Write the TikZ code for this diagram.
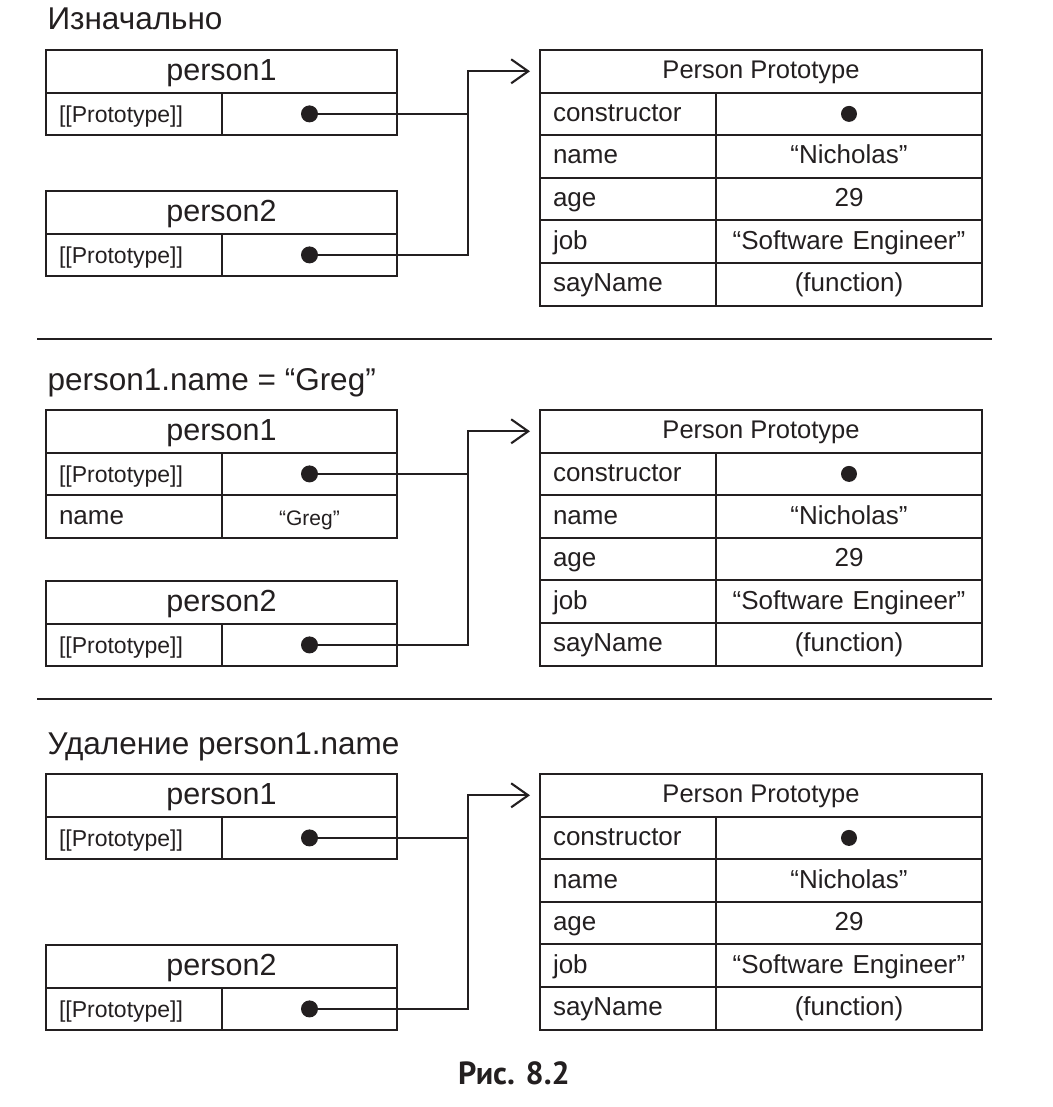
\documentclass[tikz,border=0pt]{standalone}
\usepackage{fontspec}
\setmainfont{Liberation Sans}
\newfontfamily\figcapfont{PT Sans}
\usetikzlibrary{
    positioning,
    arrows.meta
}
\definecolor{ink}{RGB}{35,31,32}
\newcommand{\ttlsize}{\fontsize{31.5}{36}\selectfont}
\newcommand{\hdsize}{\fontsize{30.5}{36}\selectfont}
\newcommand{\rowsize}{\fontsize{26}{31}\selectfont}
\newcommand{\ppsize}{\fontsize{25.5}{30}\selectfont}
\newcommand{\keysize}{\fontsize{23}{28}\selectfont}
\newcommand{\gregsize}{\fontsize{21}{25}\selectfont}
\tikzset{
    > = {Straight Barb[length=17pt, width=24pt]},
    cell/.style = {draw, line width=2pt, inner ysep=0pt, outer sep=0pt,
                   anchor=north west, minimum height=42.6pt,
                   text height=19pt, text depth=4pt},
    keycell/.style = {cell, inner xsep=13pt, text width=#1, align=left},
    valcell/.style = {cell, inner xsep=0pt, text width=#1, align=center},
    protokey/.style = {keycell=150pt, font=\keysize, text height=17.6pt, text depth=0pt},
    headcell/.style = {cell, minimum width=351pt, font=\hdsize, text height=22pt},
    dot/.style = {circle, fill, inner sep=0pt, minimum size=17pt},
    link/.style = {line width=2.1pt},
    sepline/.style = {line width=2.8pt},
}

\begin{document}
\begin{tikzpicture}[x=1pt, y=-1pt, color=ink]
\useasboundingbox (0,0) rectangle (1052,1107);

% prototype tables
\foreach \s/\t in {a/50, b/410, c/774}{
    \node[cell, minimum width=442pt, font=\ppsize, text height=18pt] (\s PP) at (540,\t) {Person Prototype};
    \foreach \k/\v [count=\i] in {constructor/{}, name/{“Nicholas”}, age/29, job/{“Software Engineer”}, sayName/(function)}{
        \node[keycell=150pt, font=\rowsize] (\s K\i) at (540,\t+\i*42.6) {\k};
        \node[valcell=266pt, font=\rowsize] (\s V\i) at (716,\t+\i*42.6) {\v};
    }
    \node[dot, minimum size=16pt] (\s CD) at (\s V1.center) {};
    \coordinate (\s J) at (468,\t+21.3);
    \coordinate (\s T) at (530,\t+21.3);
}

% first
\node[anchor=base west, font=\ttlsize] (aTitle) at (44,30) {Изначально};
\node[headcell] (aP1) at (46,50) {person1};
\node[protokey] (aP1k) at (46,92.6) {[[Prototype]]};
\node[valcell=175pt] (aP1v) at (222,92.6) {};
\node[dot] (aP1d) at (aP1v.center) {};

\node[headcell] (aP2) at (46,191) {person2};
\node[protokey] (aP2k) at (46,233.6) {[[Prototype]]};
\node[valcell=175pt] (aP2v) at (222,233.6) {};
\node[dot] (aP2d) at (aP2v.center) {};

\draw[link] (aP1d) -- (aP1d -| aJ);
\draw[link, ->] (aP2d) -| (aJ) -- (aT);

\draw[sepline] (37,339) -- (992,339);

% second
\node[anchor=base west, font=\ttlsize] (bTitle) at (44,390) {person1.name = “Greg”};
\node[headcell] (bP1) at (46,410) {person1};
\node[protokey] (bP1k) at (46,452.6) {[[Prototype]]};
\node[valcell=175pt] (bP1v) at (222,452.6) {};
\node[dot] (bP1d) at (bP1v.center) {};
\node[keycell=150pt, font=\rowsize] (bN1k) at (46,495.2) {name};
\node[valcell=175pt, font=\gregsize, text height=17pt, text depth=0pt] (bN1v) at (222,495.2) {“Greg”};

\node[headcell] (bP2) at (46,581) {person2};
\node[protokey] (bP2k) at (46,623.6) {[[Prototype]]};
\node[valcell=175pt] (bP2v) at (222,623.6) {};
\node[dot] (bP2d) at (bP2v.center) {};

\draw[link] (bP1d) -- (bP1d -| bJ);
\draw[link, ->] (bP2d) -| (bJ) -- (bT);

\draw[sepline] (37,699) -- (992,699);

% third
\node[anchor=base west, font=\ttlsize] (cTitle) at (44,754) {Удаление person1.name};
\node[headcell] (cP1) at (46,774) {person1};
\node[protokey] (cP1k) at (46,816.6) {[[Prototype]]};
\node[valcell=175pt] (cP1v) at (222,816.6) {};
\node[dot] (cP1d) at (cP1v.center) {};

\node[headcell] (cP2) at (46,945) {person2};
\node[protokey] (cP2k) at (46,987.6) {[[Prototype]]};
\node[valcell=175pt] (cP2v) at (222,987.6) {};
\node[dot] (cP2d) at (cP2v.center) {};

\draw[link] (cP1d) -- (cP1d -| cJ);
\draw[link, ->] (cP2d) -| (cJ) -- (cT);

\node[anchor=base, font=\figcapfont\bfseries\fontsize{32}{36}\selectfont] (figCap) at (514,1084) {Рис. 8.2};
\end{tikzpicture}
\end{document}
